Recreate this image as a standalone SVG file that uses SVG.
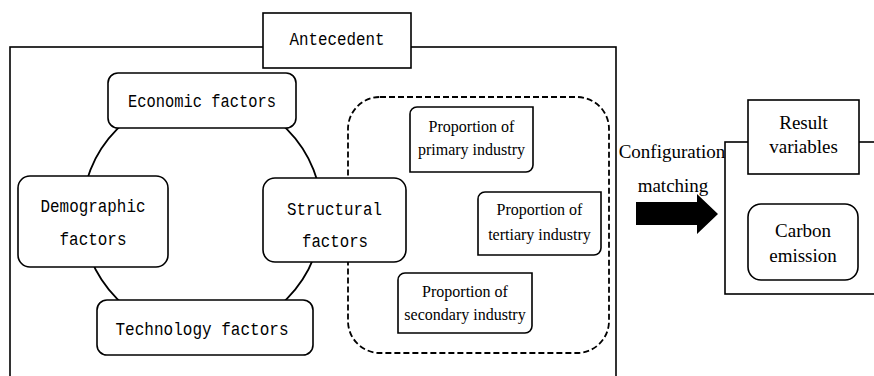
<svg xmlns="http://www.w3.org/2000/svg" width="874" height="376" viewBox="0 0 874 376">
<style>
.box{fill:#fff;stroke:#000;stroke-width:1.6}
.mono{font-family:"Liberation Mono","DejaVu Sans Mono",monospace;font-size:18.5px;fill:#000;text-anchor:middle}
.serif{font-family:"Liberation Serif","Times New Roman",serif;font-size:16px;fill:#000;text-anchor:middle}
.serifL{font-family:"Liberation Serif","Times New Roman",serif;font-size:19px;fill:#000;text-anchor:middle}
</style>
<rect width="874" height="376" fill="#fff"/>
<g id="antecedent-frame">
<rect x="10" y="47" width="606" height="340" fill="none" stroke="#000" stroke-width="1.6"/>
</g>
<g id="connectors">
<circle cx="202" cy="214" r="120" fill="none" stroke="#000" stroke-width="1.8"/>
<rect x="348" y="97" width="261" height="256" rx="32" fill="none" stroke="#000" stroke-width="1.8" stroke-dasharray="6,3"/>
<path d="M636,202 H697 V194 L718,214 L697,234 V225 H636 Z" fill="#000"/>
</g>
<g id="antecedent-label">
<rect class="box" x="263" y="13" width="148" height="55"/>
<text class="mono" x="337" y="45" textLength="95" lengthAdjust="spacingAndGlyphs">Antecedent</text>
</g>
<g id="economic">
<rect class="box" x="108" y="73" width="188" height="55" rx="10"/>
<text class="mono" x="202" y="107" textLength="148" lengthAdjust="spacingAndGlyphs">Economic factors</text>
</g>
<g id="demographic">
<rect class="box" x="18" y="176" width="150" height="91" rx="12"/>
<text class="mono" x="93" y="212" textLength="105" lengthAdjust="spacingAndGlyphs">Demographic</text>
<text class="mono" x="93" y="245" textLength="67" lengthAdjust="spacingAndGlyphs">factors</text>
</g>
<g id="structural">
<rect class="box" x="263" y="178" width="143" height="84" rx="12"/>
<text class="mono" x="334.5" y="215" textLength="95" lengthAdjust="spacingAndGlyphs">Structural</text>
<text class="mono" x="335" y="247" textLength="66" lengthAdjust="spacingAndGlyphs">factors</text>
</g>
<g id="technology">
<rect class="box" x="97" y="300" width="216" height="55" rx="10"/>
<text class="mono" x="202" y="335" textLength="173" lengthAdjust="spacingAndGlyphs">Technology factors</text>
</g>
<g id="primary">
<path class="box" d="M417,107 H533 V165 A7,7 0 0 1 526,172 H410 V114 A7,7 0 0 1 417,107 Z"/>
<text class="serif" x="471.5" y="132">Proportion of</text>
<text class="serif" x="471.5" y="155">primary industry</text>
</g>
<g id="tertiary">
<path class="box" d="M485,192 H601 V248 A7,7 0 0 1 594,255 H478 V199 A7,7 0 0 1 485,192 Z"/>
<text class="serif" x="539.5" y="215">Proportion of</text>
<text class="serif" x="539.5" y="240">tertiary industry</text>
</g>
<g id="secondary">
<path class="box" d="M405,273 H532 V326 A7,7 0 0 1 525,333 H398 V280 A7,7 0 0 1 405,273 Z"/>
<text class="serif" x="465" y="297">Proportion of</text>
<text class="serif" x="465" y="320">secondary industry</text>
</g>
<g id="config-label">
<text class="serifL" x="672" y="158">Configuration</text>
<text class="serifL" x="673" y="192">matching</text>
</g>
<g id="result-frame">
<rect x="725" y="142" width="160" height="152" fill="none" stroke="#000" stroke-width="1.6"/>
</g>
<g id="result-label">
<rect class="box" x="748" y="100" width="111" height="74"/>
<text class="serifL" x="803.5" y="129">Result</text>
<text class="serifL" x="803.5" y="153">variables</text>
</g>
<g id="carbon">
<rect class="box" x="748" y="204" width="110" height="76" rx="13"/>
<text class="serifL" x="803" y="237">Carbon</text>
<text class="serifL" x="803" y="262">emission</text>
</g>
</svg>
